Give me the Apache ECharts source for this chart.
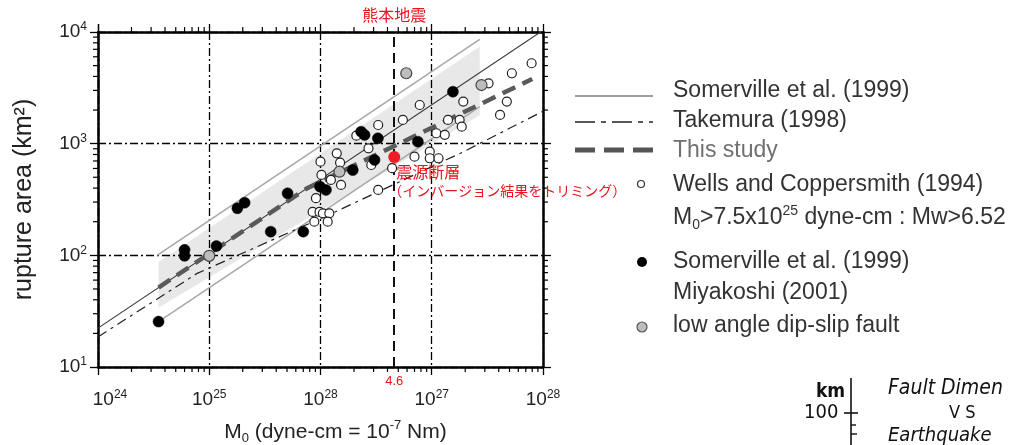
<!DOCTYPE html>
<html><head><meta charset="utf-8">
<script src="https://cdn.jsdelivr.net/npm/echarts@6/dist/echarts.min.js"></script>
<style>html,body{margin:0;padding:0;background:#fff}#c{width:1012px;height:445px}</style>
</head><body><div id="c"></div>
<script>
// ---- tick labels (exponents as printed in the figure) ----
const xTickExp = ['24', '25', '28', '27', '28'];
const yTickExp = ['1', '2', '3', '4'];

// ---- point data: [M0 (dyne-cm), rupture area (km2)] ----
const wellsCoppersmith = [
  [3.3e26,1470],[2.1e26,1180],[2.7e26,908],[1.4e26,820],[1.0e26,690],[1.5e26,676],
  [1.02e26,525],[2.86e26,644],[1.53e26,427],[1.24e26,473],[9.1e25,325],[8.5e25,245],
  [9.8e25,245],[1.05e26,238],[1.2e26,238],[8.8e25,200],[1.16e26,200],[3.3e26,385],
  [4.4e26,603],[7.9e27,5250],[5.25e27,4270],[3.24e27,3470],[1.92e27,2380],[4.73e27,2380],
  [4.11e27,1810],[7.8e26,2220],[5.5e26,1630],[1.4e27,1630],[1.78e27,1630],[1.86e27,1420],
  [1.1e27,1240],[1.31e27,1200],[7.0e26,764],[9.6e26,847],[9.6e26,740],[1.15e27,740]
];
const somervilleMiyakoshi = [
  [3.5e24,25.5],[6.0e24,112],[6.0e24,99],[1.16e25,121],[1.79e25,264],[2.08e25,296],
  [3.57e25,163],[5.06e25,359],[7.0e25,163],[9.9e25,412],[1.12e26,385],[1.95e26,580],
  [3.06e26,715],[2.32e26,1280],[2.49e26,1197],[3.28e26,1117],[7.5e26,1042],[1.55e27,2920]
];
const lowAngle = [[1.0e25,99],[1.48e26,561],[5.9e26,4270],[2.8e27,3350]];
const kumamoto = [[4.6e26, 760]];
const kumamotoM0 = 4.6e26;

// ---- line data ----
const somervilleLine = [[1e24,22.3],[1e28,10350]];
const somervilleUpper = [[3.4e24,100],[2.7e27,8600]];
const somervilleLower = [[3.4e24,25],[2.7e27,2150]];
const thisStudy = [[3.5e24,51.5],[7.5e25,396],[8e27,3800]];
const takemura = [[1e24,18.6],[7.8e24,69],[1.3e26,240],[1.9e27,840],[1e28,1950]];
const bandTop = [[3.5e24,87],[2.7e27,7400]];
const bandBottom = [[3.5e24,34],[2.7e27,1800]];

// minor tick values (2..9 within each decade)
const xMinor = [], yMinor = [];
for (let e = 24; e < 28; e++) for (let k = 2; k <= 9; k++) xMinor.push([k * Math.pow(10, e), 10]);
for (let e = 1; e < 4; e++) for (let k = 2; k <= 9; k++) yMinor.push([1e24, k * Math.pow(10, e)]);

const FONT = '"Liberation Sans", Arial, sans-serif';
const CJK = '"Noto Sans CJK JP", sans-serif';
const RED = '#e8141e';
const chart = echarts.init(document.getElementById('c'));

function expLabel(arr, base, firstShift) {
  return function (v) {
    const e = Math.round(Math.log10(v));
    const first = firstShift && e === base;
    return (first ? '{p|}' : '') + '{b|10}{s|' + arr[e - base] + '}';
  };
}
const tickRich = {
  b: { fontSize: 19, fontFamily: FONT, color: '#222', lineHeight: 22 },
  s: { fontSize: 12, fontFamily: FONT, color: '#222', lineHeight: 12, verticalAlign: 'top' },
  p: { width: 24, height: 10 }
};
const axisLineStyle = { color: '#000', width: 2.5 };
const tickStyle = { color: '#000', width: 1.3 };
const gridLine = { show: true, lineStyle: { color: '#000', width: 1.3, type: [8, 3, 2, 3] } };

function minorTickRender(dir) {
  return function (params, api) {
    const v = dir === 'x' ? api.value(0) : api.value(1);
    const L = 5, st = { stroke: '#000', lineWidth: 1.2 };
    if (dir === 'x') {
      const pb = api.coord([v, 10]), pt = api.coord([v, 1e4]);
      return { type: 'group', children: [
        { type: 'line', shape: { x1: pb[0], y1: pb[1], x2: pb[0], y2: pb[1] + L }, style: st },
        { type: 'line', shape: { x1: pt[0], y1: pt[1], x2: pt[0], y2: pt[1] - L }, style: st }
      ]};
    } else {
      const pl = api.coord([1e24, v]), pr = api.coord([1e28, v]);
      return { type: 'group', children: [
        { type: 'line', shape: { x1: pl[0], y1: pl[1], x2: pl[0] - L, y2: pl[1] }, style: st },
        { type: 'line', shape: { x1: pr[0], y1: pr[1], x2: pr[0] + L, y2: pr[1] }, style: st }
      ]};
    }
  };
}

// legend graphics
const LX = 673;
function legText(y, text, fill, rich) {
  const style = { text: text, x: LX, y: y, font: '23px ' + FONT, fill: fill || '#333',
    textAlign: 'left', align: 'left', textVerticalAlign: 'middle', verticalAlign: 'middle', lineHeight: 28 };
  if (rich) style.rich = rich;
  return { type: 'text', style: style, z: 100 };
}
const HAND = '"DejaVu Sans Condensed", sans-serif';
function handText(x, y, text, font) {
  return { type: 'text', style: { text: text, x: x, y: y, font: font, fill: '#111', verticalAlign: 'middle', textVerticalAlign: 'middle' } };
}
const legendGraphics = [
  { type: 'line', shape: { x1: 575, y1: 96, x2: 653, y2: 96 }, style: { stroke: '#a0a0a0', lineWidth: 2 } },
  legText(91, 'Somerville et al. (1999)'),
  { type: 'line', shape: { x1: 575, y1: 122, x2: 653, y2: 122 }, style: { stroke: '#222', lineWidth: 1.3, lineDash: [20, 6, 5, 6] } },
  legText(121, 'Takemura (1998)'),
  { type: 'line', shape: { x1: 575, y1: 150, x2: 653, y2: 150 }, style: { stroke: '#555', lineWidth: 5, lineDash: [20, 9] } },
  legText(151, 'This study', '#707070'),
  { type: 'circle', shape: { cx: 641, cy: 184, r: 3.5 }, style: { fill: '#fff', stroke: '#333', lineWidth: 1.2 } },
  legText(185, 'Wells and Coppersmith (1994)'),
  legText(218, 'M{sub|0}>7.5x10{sup|25} dyne-cm : Mw>6.52', null, {
    sub: { fontSize: 14, fontFamily: FONT, fill: '#333', lineHeight: 14, verticalAlign: 'bottom' },
    sup: { fontSize: 14, fontFamily: FONT, fill: '#333', lineHeight: 14, verticalAlign: 'top' }
  }),
  { type: 'circle', shape: { cx: 642, cy: 262, r: 5 }, style: { fill: '#000' } },
  legText(262, 'Somerville et al. (1999)'),
  legText(293, 'Miyakoshi (2001)'),
  { type: 'circle', shape: { cx: 642, cy: 327, r: 5 }, style: { fill: '#bdbdbd', stroke: '#555', lineWidth: 1.2 } },
  legText(326, 'low angle dip-slip fault'),
  // fragment of another figure, bottom right
  handText(816, 392, 'km', 'bold 19px ' + HAND),
  { type: 'line', shape: { x1: 851, y1: 378, x2: 851, y2: 445 }, style: { stroke: '#111', lineWidth: 1.6 } },
  { type: 'line', shape: { x1: 844, y1: 413, x2: 858, y2: 413 }, style: { stroke: '#111', lineWidth: 1.6 } },
  { type: 'line', shape: { x1: 851, y1: 425, x2: 856, y2: 425 }, style: { stroke: '#111', lineWidth: 1.4 } },
  { type: 'line', shape: { x1: 851, y1: 434, x2: 857, y2: 434 }, style: { stroke: '#111', lineWidth: 1.4 } },
  handText(804, 413, '100', '20px ' + HAND),
  handText(888, 389, 'Fault Dimen', 'italic 21px ' + HAND),
  handText(949, 413, 'V S', '18px ' + HAND),
  handText(888, 436, 'Earthquake', 'italic 20px ' + HAND)
];

const option = {
  animation: false,
  backgroundColor: '#fff',
  grid: { left: 98, right: 469, top: 32, bottom: 78, containLabel: false, outerBoundsMode: 'none' },
  xAxis: [
    { type: 'log', logBase: 10, min: 1e24, max: 1e28, position: 'bottom',
      axisLine: { show: true, onZero: false, lineStyle: axisLineStyle },
      axisTick: { show: true, length: 8, lineStyle: tickStyle },
      axisLabel: { margin: 22, formatter: expLabel(xTickExp, 24, true), rich: tickRich },
      splitLine: gridLine,
      name: 'M{sub|0} (dyne-cm = 10{sup|-7} Nm)', nameLocation: 'middle', nameGap: 52,
      nameTextStyle: { fontSize: 21, fontFamily: FONT, color: '#222', lineHeight: 26, padding: [0, 0, 0, 30],
        rich: { sub: { fontSize: 13, fontFamily: FONT, color: '#222', lineHeight: 13, verticalAlign: 'bottom' },
                sup: { fontSize: 13, fontFamily: FONT, color: '#222', lineHeight: 13, verticalAlign: 'top' } } } },
    { type: 'log', logBase: 10, min: 1e24, max: 1e28, position: 'top',
      axisLine: { show: true, onZero: false, lineStyle: axisLineStyle },
      axisTick: { show: true, length: 8, lineStyle: tickStyle },
      axisLabel: { show: false }, splitLine: { show: false } }
  ],
  yAxis: [
    { type: 'log', logBase: 10, min: 10, max: 1e4, position: 'left',
      axisLine: { show: true, onZero: false, lineStyle: axisLineStyle },
      axisTick: { show: true, length: 8, lineStyle: tickStyle },
      axisLabel: { margin: 11, formatter: expLabel(yTickExp, 1, false), rich: tickRich },
      splitLine: gridLine,
      name: 'rupture area (km²)', nameLocation: 'middle', nameGap: 60,
      nameTextStyle: { fontSize: 25, fontFamily: FONT, color: '#222', lineHeight: 28 } },
    { type: 'log', logBase: 10, min: 10, max: 1e4, position: 'right',
      axisLine: { show: true, onZero: false, lineStyle: axisLineStyle },
      axisTick: { show: true, length: 8, lineStyle: tickStyle },
      axisLabel: { show: false }, splitLine: { show: false } }
  ],
  graphic: legendGraphics,
  series: [
    { type: 'custom', name: 'band', silent: true, z: 1, data: [bandTop[0]],
      renderItem: function (params, api) {
        const pts = [bandTop[0], bandTop[1], bandBottom[1], bandBottom[0]].map(function (p) { return api.coord(p); });
        return { type: 'polygon', shape: { points: pts }, style: { fill: 'rgba(0,0,0,0.09)' } };
      } },
    { type: 'custom', name: 'xminor', silent: true, clip: false, data: xMinor, renderItem: minorTickRender('x') },
    { type: 'custom', name: 'yminor', silent: true, clip: false, data: yMinor, renderItem: minorTickRender('y') },
    { type: 'line', name: 'Somerville upper', data: somervilleUpper, symbol: 'none', silent: true, z: 2,
      lineStyle: { color: '#a8a8a8', width: 1.6 } },
    { type: 'line', name: 'Somerville lower', data: somervilleLower, symbol: 'none', silent: true, z: 2,
      lineStyle: { color: '#a8a8a8', width: 1.6 } },
    { type: 'line', name: 'Somerville et al. (1999)', data: somervilleLine, symbol: 'none', silent: true, z: 2, clip: true,
      lineStyle: { color: '#333', width: 1.1 } },
    { type: 'line', name: 'Takemura (1998)', data: takemura, symbol: 'none', silent: true, z: 2, clip: true,
      lineStyle: { color: '#222', width: 1.2, type: [10, 5, 3, 5] } },
    { type: 'line', name: 'This study', data: thisStudy, symbol: 'none', silent: true, z: 3,
      lineStyle: { color: '#5a5a5a', width: 4.5, type: [14, 8] },
      markLine: { silent: true, symbol: ['none', 'none'],
        lineStyle: { color: '#111', width: 2, type: [10, 6] },
        data: [
          { xAxis: kumamotoM0, label: { show: true, position: 'start', formatter: '4.6', color: RED, fontSize: 13, fontFamily: FONT, distance: 8 } },
          { xAxis: kumamotoM0, lineStyle: { color: 'rgba(0,0,0,0)', width: 0.01 },
            label: { show: true, position: 'end', formatter: '熊本地震', color: RED, fontSize: 16, fontFamily: CJK, distance: 9 } }
        ] } },
    { type: 'scatter', name: 'Wells and Coppersmith (1994)', data: wellsCoppersmith, symbol: 'circle', symbolSize: 9, z: 5,
      itemStyle: { color: '#fff', borderColor: '#222', borderWidth: 1.2, opacity: 1 } },
    { type: 'scatter', name: 'Somerville et al. (1999) / Miyakoshi (2001)', data: somervilleMiyakoshi, symbol: 'circle', symbolSize: 11, z: 6,
      itemStyle: { color: '#000', borderColor: '#000', borderWidth: 0.5, opacity: 1 } },
    { type: 'scatter', name: 'low angle dip-slip fault', data: lowAngle, symbol: 'circle', symbolSize: 11, z: 6,
      itemStyle: { color: '#bdbdbd', borderColor: '#444', borderWidth: 1.2, opacity: 1 } },
    { type: 'scatter', name: '熊本地震', data: kumamoto, symbol: 'circle', symbolSize: 12, z: 7,
      itemStyle: { color: '#ee1c25', opacity: 1 },
      label: { show: true, position: [0, 11], color: RED, fontFamily: CJK,
        formatter: '{a|震源断層}\n{b|（インバージョン結果をトリミング）}',
        rich: { a: { fontSize: 16, lineHeight: 19, color: RED, fontFamily: CJK, padding: [0, 0, 0, 8] },
                b: { fontSize: 14, lineHeight: 19, color: RED, fontFamily: CJK } } } }
  ]
};
chart.setOption(option);
</script>
</body></html>
